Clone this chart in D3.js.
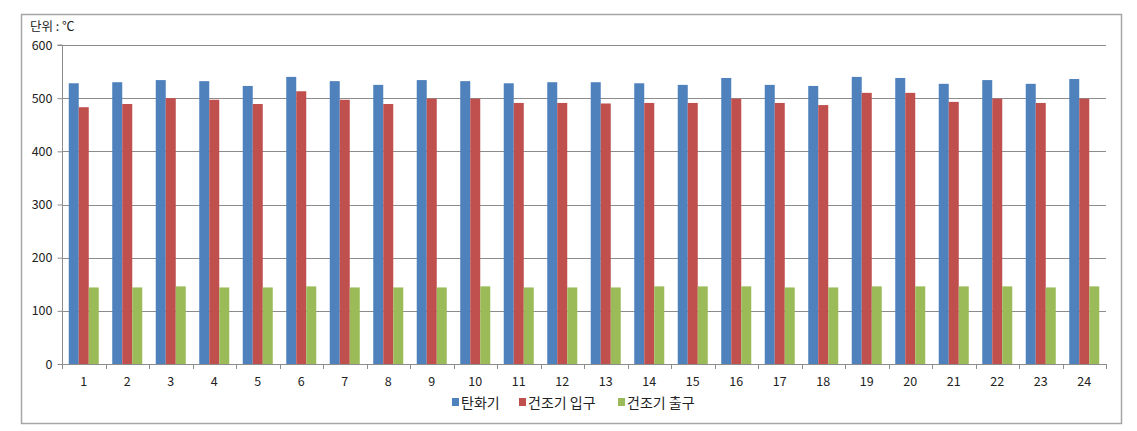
<!DOCTYPE html>
<html><head><meta charset="utf-8">
<script src="https://cdn.jsdelivr.net/npm/d3@7"></script>
<style>body{margin:0;background:#fff}svg{display:block}text{font-family:"Noto Sans CJK KR","Noto Sans",sans-serif}</style>
</head><body><svg id="c" width="1137" height="431"></svg>
<script>
const categories = ["1","2","3","4","5","6","7","8","9","10","11","12","13","14","15","16","17","18","19","20","21","22","23","24"];
const seriesNames = ["탄화기","건조기 입구","건조기 출구"];
const carbonizer = [528,530,534,532,523,540,532,525,534,532,528,530,530,528,525,538,525,523,540,538,527,534,527,536];
const dryerIn = [483,489,500,497,489,513,497,489,499,499,491,491,490,491,491,499,491,487,510,510,493,499,491,499];
const dryerOut = [144,144,146,144,144,146,144,144,144,146,144,144,144,146,146,146,144,144,146,146,146,146,144,146];
const yTicks = [0,100,200,300,400,500,600];
const colors = ["#4F81BD","#C0504D","#9BBB59"];
const unitLabel = "단위 : ℃";

const svg = d3.select("#c");
const M = {l:62, r:1106, t:45, b:364};
svg.append("rect").attr("x",21.5).attr("y",14.5).attr("width",1100).attr("height",409)
  .attr("fill","#fff").attr("stroke","#a6a6a6").attr("stroke-width",1.5);

const x = d3.scaleBand().domain(categories).range([M.l,M.r]).paddingInner(0).paddingOuter(0);
const groupW = x.bandwidth()*0.69;
const x1 = d3.scaleBand().domain(d3.range(3)).range([(x.bandwidth()-groupW)/2,(x.bandwidth()+groupW)/2]);
const y = d3.scaleLinear().domain([0,600]).range([M.b,M.t]);

// gridlines
svg.append("g").selectAll("line").data(yTicks.filter(d=>d>0)).join("line")
  .attr("x1",M.l).attr("x2",M.r).attr("y1",d=>Math.round(y(d))+0.5).attr("y2",d=>Math.round(y(d))+0.5)
  .attr("stroke","#8c8c8c").attr("stroke-width",1);

const data = [carbonizer, dryerIn, dryerOut];
const g = svg.append("g");
categories.forEach((c,i)=>{
  data.forEach((arr,s)=>{
    g.append("rect").attr("x",x(c)+x1(s)).attr("width",x1.bandwidth())
      .attr("y",y(arr[i])).attr("height",y(0)-y(arr[i])).attr("fill",colors[s]);
  });
});

// y axis
const ya = svg.append("g").attr("transform",`translate(${M.l+0.5},0)`)
  .call(d3.axisLeft(y).tickValues(yTicks).tickSize(5).tickPadding(5));
ya.select(".domain").attr("stroke","#8c8c8c").attr("d",`M-5,${y(600)}H0V${y(0)}`);
ya.selectAll(".tick line").attr("stroke","#8c8c8c");
ya.selectAll("text").attr("font-size",12.5).attr("fill","#222");

// x axis
const xa = svg.append("g").attr("transform",`translate(0,${Math.round(y(0))+0.5})`)
  .call(d3.axisBottom(x).tickSize(0).tickPadding(13));
xa.select(".domain").attr("stroke","#8c8c8c").attr("d",`M${M.l},0H${M.r}`);
xa.selectAll("text").attr("font-size",12.5).attr("fill","#222");
svg.append("g").selectAll("line").data(categories.concat(["end"])).join("line")
  .attr("x1",(d,i)=>Math.round(M.l+i*x.bandwidth())+0.5).attr("x2",(d,i)=>Math.round(M.l+i*x.bandwidth())+0.5)
  .attr("y1",y(0)).attr("y2",y(0)+5).attr("stroke","#8c8c8c");

// unit label
svg.append("text").attr("x",30).attr("y",31).attr("font-size",12.5).attr("fill","#222").text(unitLabel);

// legend
const legX = [452, 519, 618];
const lg = svg.append("g");
seriesNames.forEach((n,i)=>{
  lg.append("rect").attr("x",legX[i]).attr("y",398).attr("width",7).attr("height",8).attr("fill",colors[i]);
  lg.append("text").attr("x",legX[i]+9).attr("y",408).attr("font-size",14).attr("fill","#222").text(n);
});
</script></body></html>
